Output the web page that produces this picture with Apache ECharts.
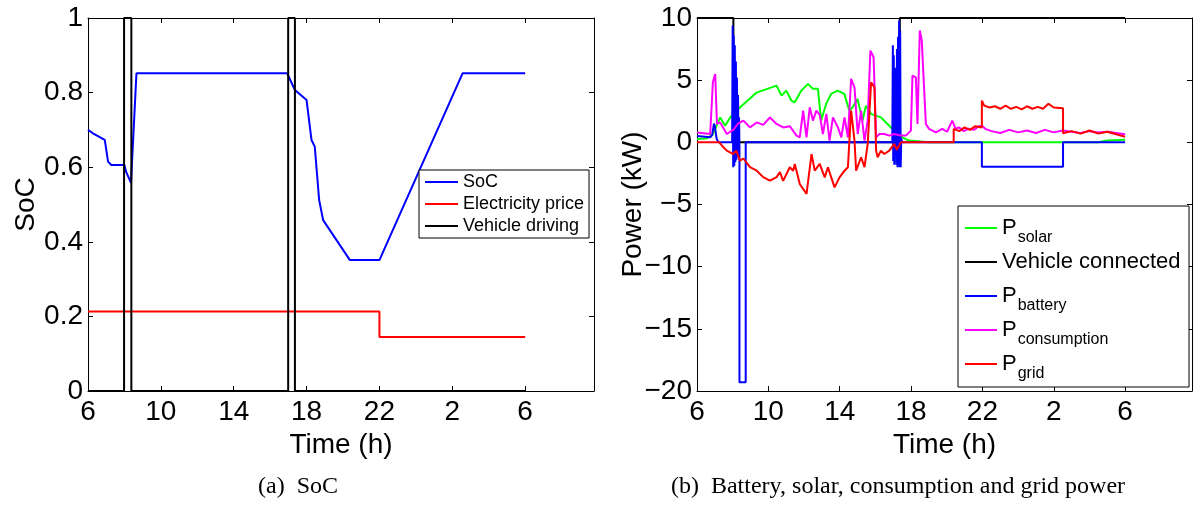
<!DOCTYPE html>
<html>
<head>
<meta charset="utf-8">
<script src="https://cdn.jsdelivr.net/npm/echarts@6/dist/echarts.min.js"></script>
<style>
  html, body { margin: 0; padding: 0; background: #fff; }
  #chart { width: 1195px; height: 508px; }
</style>
</head>
<body>
<div id="chart"></div>
<script>
// time is in hours after 06:00, tick labels show the clock hour
var xTicks = [0, 4, 8, 12, 16, 20, 24];

// (a) SoC
var socT = [0, 0.27, 0.92, 1.1, 1.28, 2.0, 2.09, 2.36, 2.66, 10.93, 11.36, 12.0, 12.27, 12.45, 12.69, 12.91, 14.38, 16.0, 20.57, 24];
var socV = [0.70, 0.691, 0.673, 0.615, 0.606, 0.606, 0.588, 0.558, 0.852, 0.852, 0.807, 0.78, 0.673, 0.655, 0.512, 0.458, 0.351, 0.351, 0.852, 0.852];
var priceT = [0, 16, 16, 24];
var priceV = [0.213, 0.213, 0.145, 0.145];
var driveT = [0, 1.98, 1.98, 2.38, 2.38, 10.99, 10.99, 11.36, 11.36, 24];
var driveV = [0, 0, 1, 1, 0, 0, 1, 1, 0, 0];

// (b) power, kW
var solarT = [0, 0.5, 0.87, 1.02, 1.3, 1.58, 1.86, 2.41, 3.34, 4.46, 4.74, 5.01, 5.29, 5.48, 5.85, 6.22, 6.5, 6.78, 6.96, 7.24, 7.52, 7.89, 8.26, 8.54, 8.73, 9.0, 9.28, 9.47, 9.75, 10.31, 10.86, 11.05, 11.33, 11.88, 12.99, 22.5, 23.0, 24];
var solarV = [0.27, 0.3, 0.6, 1.08, 2.0, 1.34, 2.0, 2.8, 4.0, 4.56, 3.76, 4.16, 3.36, 3.22, 4.16, 4.7, 4.3, 4.3, 1.75, 3.09, 3.9, 4.16, 3.9, 2.55, 2.82, 3.49, 1.75, 2.95, 2.29, 2.01, 1.21, 0.94, 0.54, 0.14, 0, 0, 0.14, 0.2];
var connT = [0, 2.04, 2.04, 11.37, 11.37, 24];
var connV = [10, 10, 0, 0, 10, 10];
var battT = [0, 0.74, 0.85, 0.95, 1.0, 1.1, 1.2, 1.97, 2.0, 2.03, 2.06, 2.09, 2.12, 2.15, 2.18, 2.21, 2.24, 2.27, 2.3, 2.33, 2.36, 2.38, 2.38, 2.73, 2.73, 10.95, 10.98, 11.0, 11.03, 11.06, 11.09, 11.12, 11.15, 11.18, 11.21, 11.24, 11.27, 11.3, 11.33, 11.36, 11.39, 11.42, 11.45, 11.5, 15.97, 15.97, 20.52, 20.52, 24];
var battV = [0.5, 0.4, 0.6, 1.5, 1.3, 0.3, 0, 0, 9.4, -2.0, 8.6, -1.9, 7.8, -1.6, 6.5, -1.4, 5.2, -1.2, 3.8, -1.0, 2.0, -0.5, -19.3, -19.3, 0, 0, 7.8, -1.5, 7.0, -1.8, 6.0, -1.0, 5.0, -1.8, 7.5, -2.0, 8.5, -1.8, 9.8, -2.0, 9.0, -2.0, 0.3, 0, 0, -1.96, -1.96, 0, 0];
var consT = [0, 0.74, 0.89, 1.02, 1.12, 1.3, 1.67, 2.03, 2.3, 2.6, 2.97, 3.35, 3.71, 4.09, 4.46, 4.83, 5.2, 5.58, 5.76, 5.95, 6.14, 6.32, 6.5, 6.69, 6.88, 7.06, 7.25, 7.43, 7.62, 7.9, 8.09, 8.27, 8.46, 8.64, 8.83, 9.01, 9.2, 9.39, 9.57, 9.72, 9.9, 10.04, 10.22, 10.5, 10.78, 11.06, 11.43, 11.71, 11.99, 12.08, 12.27, 12.36, 12.49, 12.6, 12.68, 12.83, 13.01, 13.39, 13.75, 14.02, 14.31, 14.5, 14.68, 14.96, 15.24, 15.52, 15.8, 15.98, 16.17, 16.5, 17.0, 17.5, 18.0, 18.5, 19.0, 19.5, 20.0, 20.5, 21.0, 21.5, 22.0, 22.5, 23.0, 23.5, 24];
var consV = [0.8, 0.67, 4.83, 5.5, 1.48, 1.6, 0.67, 1.0, 1.5, 1.75, 1.2, 1.6, 1.4, 2.0, 1.48, 1.2, 1.3, 0.54, 0.4, 2.55, 0.4, 2.82, 1.75, 2.55, 2.2, 0.67, 2.29, 0.14, 2.0, 1.2, 0.4, 2.0, 0.4, 5.1, 4.43, 0.67, 2.55, 0.14, 1.75, 7.38, 6.84, 0.4, 0.67, 0.67, 0.54, 0.67, 0.54, 0.54, 0.94, 5.37, 5.23, 1.48, 9.0, 8.2, 8.05, 1.48, 1.08, 0.8, 1.08, 0.85, 1.75, 1.08, 1.2, 0.9, 1.1, 1.0, 1.3, 1.34, 1.08, 0.9, 0.75, 1.0, 0.8, 0.95, 0.75, 1.0, 0.8, 0.95, 0.85, 0.75, 0.9, 0.8, 0.85, 0.75, 0.65];
var gridT = [0, 1.25, 1.4, 1.67, 2.03, 2.2, 2.41, 2.6, 2.97, 3.35, 3.71, 4.09, 4.46, 4.65, 4.83, 5.2, 5.39, 5.48, 5.67, 5.76, 6.14, 6.42, 6.6, 6.88, 7.16, 7.34, 7.71, 7.99, 8.27, 8.46, 8.64, 8.83, 8.92, 9.2, 9.39, 9.57, 9.76, 9.95, 10.04, 10.13, 10.31, 10.5, 10.78, 11.06, 11.2, 11.43, 14.39, 14.39, 14.7, 15.0, 15.3, 15.6, 15.97, 15.97, 16.1, 16.4, 16.7, 17.0, 17.3, 17.6, 17.9, 18.2, 18.5, 18.8, 19.1, 19.4, 19.7, 20.0, 20.52, 20.52, 21.0, 21.5, 22.0, 22.5, 23.0, 23.5, 24];
var gridV = [0, 0, -0.27, -0.67, -0.94, -0.67, -1.47, -1.3, -2.0, -2.28, -2.8, -3.08, -2.8, -2.4, -3.1, -2.0, -2.28, -1.74, -2.8, -3.35, -4.15, -0.94, -2.28, -1.74, -2.82, -2.0, -3.62, -2.82, -2.28, -2.0, 2.55, 0.14, -2.28, -1.2, -2.0, -0.13, 4.83, 4.43, -0.67, -1.2, -0.67, -0.94, -0.67, -0.13, -0.6, 0, 0, 1.08, 0.9, 1.2, 1.0, 1.3, 1.2, 3.36, 2.95, 2.8, 2.9, 2.7, 2.95, 2.7, 2.85, 2.65, 2.9, 2.7, 2.85, 2.7, 3.1, 2.8, 2.75, 0.73, 0.9, 0.7, 0.95, 0.7, 0.85, 0.65, 0.45];

var subs = { Psolar: 'solar', Pbattery: 'battery', Pconsumption: 'consumption', Pgrid: 'grid' };

function pairs(t, v) {
  return t.map(function (x, i) { return [x, v[i]]; });
}

var font = 'Liberation Sans, Arial, sans-serif';
var serif = 'Liberation Serif, Times New Roman, serif';
var tickFont = 28;

function hourLabel(v) {
  if (xTicks.indexOf(Math.round(v * 1000) / 1000) < 0) return '';
  return String((6 + v) % 24);
}

function xAx(grid, pos, max) {
  return {
    type: 'value', gridIndex: grid, position: pos, min: 0, max: max, interval: 4,
    name: pos === 'bottom' ? 'Time (h)' : '',
    nameLocation: 'middle', nameGap: 33,
    nameTextStyle: { fontFamily: font, fontSize: tickFont, color: '#000' },
    axisLine: { show: true, onZero: false, lineStyle: { color: '#000', width: 1 } },
    axisTick: { show: true, inside: true, length: 5, lineStyle: { color: '#000' } },
    axisLabel: { show: pos === 'bottom', formatter: hourLabel, margin: 7, color: '#000', fontFamily: font, fontSize: tickFont },
    splitLine: { show: false }
  };
}

function yAx(grid, pos, min, max, step, name, gap, fmt) {
  return {
    type: 'value', gridIndex: grid, position: pos, min: min, max: max, interval: step,
    name: pos === 'left' ? name : '',
    nameLocation: 'middle', nameGap: gap, nameMoveOverlap: false,
    nameTextStyle: { fontFamily: font, fontSize: tickFont, color: '#000' },
    axisLine: { show: true, onZero: false, lineStyle: { color: '#000', width: 1 } },
    axisTick: { show: true, inside: true, length: 5, lineStyle: { color: '#000' } },
    axisLabel: { show: pos === 'left', formatter: fmt, margin: 5, color: '#000', fontFamily: font, fontSize: tickFont },
    splitLine: { show: false }
  };
}

function line(name, color, xi, yi, data) {
  return {
    name: name, type: 'line', xAxisIndex: xi, yAxisIndex: yi, data: data,
    symbol: 'none', showSymbol: false, animation: false,
    lineStyle: { color: color, width: 2 }, itemStyle: { color: color }
  };
}

var chart = echarts.init(document.getElementById('chart'));

var option = {
  backgroundColor: '#fff',
  animation: false,
  grid: [
    { left: 88, top: 18, width: 506, height: 373 },
    { left: 697, top: 18, width: 497, height: 373 }
  ],
  xAxis: [
    xAx(0, 'bottom', 27.78),
    xAx(0, 'top', 27.78),
    xAx(1, 'bottom', 27.75),
    xAx(1, 'top', 27.75)
  ],
  yAxis: [
    yAx(0, 'left', 0, 1, 0.2, 'SoC', 48),
    yAx(0, 'right', 0, 1, 0.2, '', 0),
    yAx(1, 'left', -20, 10, 5, 'Power (kW)', 50, function (v) { return v < 0 ? '\u2212' + (-v) : String(v); }),
    yAx(1, 'right', -20, 10, 5, '', 0)
  ],
  legend: [
    {
      orient: 'vertical', left: 419, top: 170, icon: 'rect',
      padding: [1, 5, 1, 6], itemGap: 0, itemWidth: 33, itemHeight: 2,
      backgroundColor: '#fff', borderColor: '#000', borderWidth: 1, borderRadius: 0,
      data: ['SoC', 'Electricity price', 'Vehicle driving'],
      textStyle: { fontFamily: font, fontSize: 18, lineHeight: 22, color: '#000' }
    },
    {
      orient: 'vertical', left: 958, top: 206, icon: 'rect',
      padding: [11, 3, 0, 7], itemGap: 0, itemWidth: 32, itemHeight: 2,
      backgroundColor: '#fff', borderColor: '#000', borderWidth: 1, borderRadius: 0,
      data: ['Psolar', 'Vehicle connected', 'Pbattery', 'Pconsumption', 'Pgrid'],
      formatter: function (name) {
        return subs[name] ? '{p|P}{s|' + subs[name] + '}' : '{p|' + name + '}{s| }';
      },
      textStyle: {
        fontFamily: font, fontSize: 22, color: '#000',
        rich: {
          p: { fontFamily: font, fontSize: 22, lineHeight: 22, verticalAlign: 'top', padding: [0, 0, 0, 0], color: '#000' },
          s: { fontFamily: font, fontSize: 16, lineHeight: 16, verticalAlign: 'top', padding: [13, 0, 5, 1], color: '#000' }
        }
      }
    }
  ],
  graphic: [
    { type: 'text', x: 298, y: 475, style: { text: '(a)  SoC', fontFamily: serif, fontSize: 24, fill: '#000', textAlign: 'center' } },
    { type: 'text', x: 898, y: 475, style: { text: '(b)  Battery, solar, consumption and grid power', fontFamily: serif, fontSize: 24, fill: '#000', textAlign: 'center' } }
  ],
  series: [
    line('SoC', '#0000ff', 0, 0, pairs(socT, socV)),
    line('Electricity price', '#ff0000', 0, 0, pairs(priceT, priceV)),
    line('Vehicle driving', '#000000', 0, 0, pairs(driveT, driveV)),
    line('Psolar', '#00ff00', 2, 2, pairs(solarT, solarV)),
    line('Vehicle connected', '#000000', 2, 2, pairs(connT, connV)),
    line('Pbattery', '#0000ff', 2, 2, pairs(battT, battV)),
    line('Pconsumption', '#ff00ff', 2, 2, pairs(consT, consV)),
    line('Pgrid', '#ff0000', 2, 2, pairs(gridT, gridV))
  ]
};

chart.setOption(option);
</script>
</body>
</html>
